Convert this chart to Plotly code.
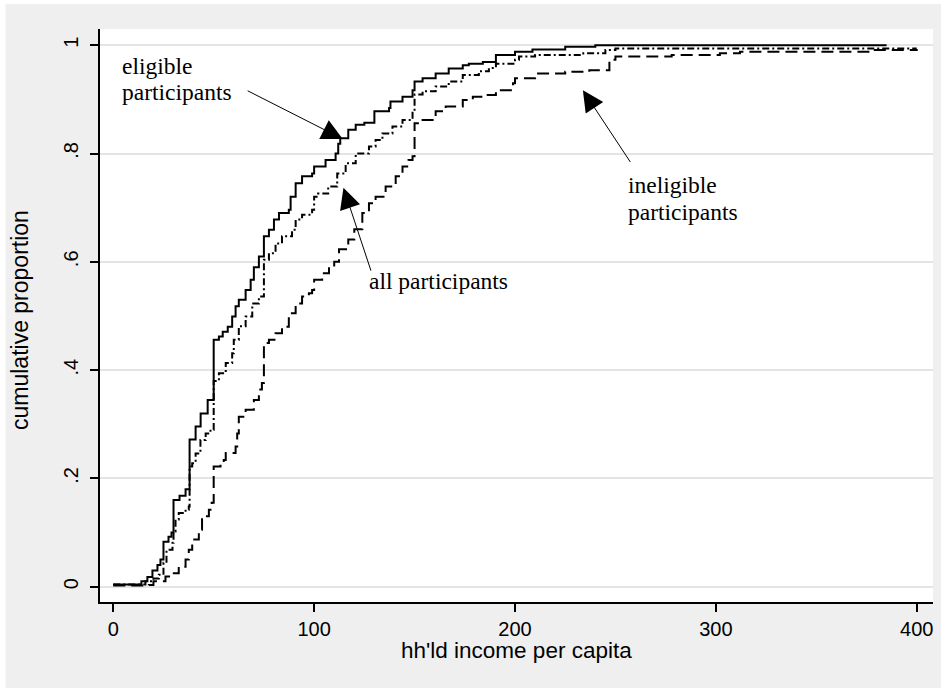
import plotly.graph_objects as go

# ---------------- data ----------------
income_elig = [0, 14, 17, 19.5, 22, 23.5, 25, 27.5, 29, 30, 33, 36, 38, 41, 43.5, 47, 50,
               52.6, 54.5, 57, 59.2, 60.9, 62.5, 65.9, 68.4, 70, 72.5, 75, 77.5, 80, 82.5,
               87.4, 88.3, 90.8, 94, 99, 100, 105.7, 110.7, 112, 113, 117, 120.7, 125, 130,
               137.3, 138, 144, 149, 150, 154, 160.5, 167, 174, 177, 184, 190.5, 200, 208.7,
               225, 240, 385]
cum_elig = [.004, .01, .018, .03, .04, .05, .083, .092, .10, .16, .168, .18, .272, .296, .32,
            .345, .456, .462, .471, .48, .499, .518, .53, .548, .567, .59, .61, .647, .659,
            .678, .69, .696, .72, .745, .758, .763, .776, .788, .80, .818, .828, .844, .853,
            .857, .878, .884, .896, .905, .917, .933, .939, .948, .957, .963, .966, .969,
            .982, .988, .992, .997, 1.0, 1.0]

income_all = [0, 16, 20, 22.7, 25, 26.5, 29.5, 30, 31, 32.6, 36, 37.6, 38, 39.3, 41, 43.4,
              46, 48.4, 50, 52.6, 56, 59.2, 60, 62.5, 65.9, 69.2, 72.5, 75, 77.5, 80.8, 84,
              89, 90.8, 94, 99, 100, 102, 107, 111.5, 115.7, 120.7, 127.3, 130.6, 134, 139,
              144, 149, 150, 154, 160.5, 167, 174, 182, 187, 190.5, 200, 202, 210, 234, 245,
              250, 400]
cum_all = [.004, .01, .015, .022, .044, .068, .081, .102, .124, .136, .142, .148, .222, .228,
           .246, .271, .283, .29, .38, .394, .413, .431, .456, .481, .499, .523, .536, .604,
           .616, .634, .647, .659, .678, .687, .696, .72, .726, .739, .763, .782, .80, .813,
           .825, .837, .85, .862, .878, .909, .915, .924, .933, .945, .952, .958, .966, .973,
           .979, .982, .985, .991, .994, .994]

income_inel = [0, 17.7, 20, 26, 29.3, 32.6, 36, 37.6, 39.3, 42.6, 44.2, 47.6, 49, 50, 53.4,
               55, 56, 60.9, 61.7, 62.5, 65.9, 70, 72.5, 74, 75, 77.5, 80.8, 84, 87.4, 90.8,
               94, 97.4, 99, 100, 104, 107.4, 110, 112.4, 117, 120, 124, 127.3, 130.6, 135.6,
               140.6, 144, 147, 149, 150, 154, 159, 160.5, 165.5, 174, 179, 184, 190.5, 199,
               200, 210, 225, 237, 247, 250, 278, 302, 312, 378, 400]
cum_inel = [.002, .003, .01, .019, .025, .037, .05, .068, .087, .105, .13, .142, .155, .222,
            .228, .234, .247, .259, .283, .314, .327, .345, .364, .376, .45, .456, .468, .48,
            .505, .523, .536, .542, .548, .567, .579, .588, .60, .623, .641, .66, .69, .708,
            .72, .739, .758, .776, .788, .795, .856, .862, .868, .878, .887, .899, .905, .908,
            .917, .93, .939, .948, .951, .954, .973, .979, .982, .985, .988, .991, .993]

x_ticks = [0, 100, 200, 300, 400]
y_ticks = [0, 0.2, 0.4, 0.6, 0.8, 1]
y_ticklabels = ["0", ".2", ".4", ".6", ".8", "1"]

x_title = "hh'ld income per capita"
y_title = "cumulative proportion"

# ---------------- figure ----------------
W, H = 941, 688
L, R, T, B = 100, 8, 29, 86
PW, PH = W - L - R, H - T - B

def px(xp):
    return (xp - L) / PW

def py(yp):
    return (H - B - yp) / PH

fig = go.Figure()
fig.add_trace(go.Scatter(x=income_inel, y=cum_inel, mode="lines", name="ineligible participants",
                         line=dict(color="black", width=2, dash="12px,6px", shape="hv")))
fig.add_trace(go.Scatter(x=income_all, y=cum_all, mode="lines", name="all participants",
                         line=dict(color="black", width=2, dash="7px,3px,2px,3px", shape="hv")))
fig.add_trace(go.Scatter(x=income_elig, y=cum_elig, mode="lines", name="eligible participants",
                         line=dict(color="black", width=2, shape="hv")))

sans = "Liberation Sans, Arial, sans-serif"
serif = "Liberation Serif, Times New Roman, serif"

fig.update_layout(
    width=W, height=H,
    margin=dict(l=L, r=R, t=T, b=B, pad=0),
    paper_bgcolor="#efefef",
    plot_bgcolor="white",
    showlegend=False,
    font=dict(family=sans, color="black"),
)
fig.update_xaxes(range=[-6.6, 408.1], tickvals=x_ticks, showgrid=False, zeroline=False,
                 showline=True, linecolor="black", linewidth=1.5,
                 ticks="outside", ticklen=8, tickwidth=1.5, tickcolor="black",
                 tickfont=dict(family=sans, size=20, color="black"))
fig.update_yaxes(range=[-0.0283, 1.030], tickvals=y_ticks, ticktext=y_ticklabels,
                 tickangle=-90, showgrid=True, gridcolor="#e4e4e4", gridwidth=1.5,
                 zeroline=False, showline=True, linecolor="black", linewidth=1.5,
                 ticks="outside", ticklen=8, tickwidth=1.5, tickcolor="black",
                 ticklabelstandoff=4,
                 tickfont=dict(family=sans, size=20, color="black"))

ann = []
# axis titles
ann.append(dict(text=x_title, xref="paper", yref="paper", x=0.5, y=py(650),
                xanchor="center", yanchor="middle", showarrow=False,
                font=dict(family=sans, size=22.5, color="black")))
ann.append(dict(text=y_title, xref="paper", yref="paper", x=px(20), y=py(320),
                xanchor="center", yanchor="middle", textangle=-90, showarrow=False,
                font=dict(family=sans, size=23, color="black")))

# series labels
lab_font = dict(family=serif, size=23.5, color="black")
for txt, xv, yv in [("eligible", 3.6, 0.9625), ("participants", 3.6, 0.9135),
                    ("all participants", 126.3, 0.5645),
                    ("ineligible", 255.2, 0.741), ("participants", 255.2, 0.692)]:
    ann.append(dict(text=txt, x=xv, y=yv, xref="x", yref="y", xanchor="left",
                    yanchor="middle", showarrow=False, font=lab_font))

# arrows (tip at x,y; tail offset in pixels)
for xv, yv, axp, ayp in [(114.25, 0.8268, -96.6, -49.0),
                         (114.6, 0.737, 28.0, 84.5),
                         (233.8, 0.917, 48.4, 73.3)]:
    ann.append(dict(text="", x=xv, y=yv, xref="x", yref="y", ax=axp, ay=ayp,
                    showarrow=True, arrowhead=2, arrowsize=4.2, arrowwidth=1,
                    arrowcolor="black", standoff=0))
fig.update_layout(annotations=ann)

# white page strips around the grey graph region
fig.update_layout(shapes=[
    dict(type="rect", xref="paper", yref="paper", x0=px(0), x1=px(5.5), y0=py(H), y1=py(0),
         fillcolor="white", line=dict(width=0), layer="below"),
    dict(type="rect", xref="paper", yref="paper", x0=px(0), x1=px(W), y0=py(4), y1=py(0),
         fillcolor="white", line=dict(width=0), layer="below"),
])

fig.write_html("out.html")
